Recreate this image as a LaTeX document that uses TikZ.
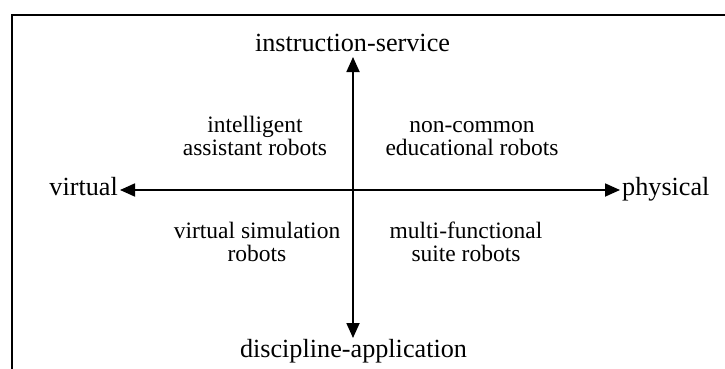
\documentclass[tikz,border=0pt]{standalone}
\usepackage{fontspec}
\setmainfont{Liberation Serif}
\usetikzlibrary{arrows.meta}
\begin{document}
\begin{tikzpicture}[x=1pt,y=-1pt,
  axis/.style={line width=1.8pt,-{Triangle[length=15pt,width=13pt]}},
  lbl/.style={font=\fontsize{26.2}{28}\selectfont,inner sep=0pt},
  quad/.style={font=\fontsize{23.5}{23}\selectfont,align=center,inner sep=0pt,anchor=base}]
  \useasboundingbox (0,0) rectangle (725,369);
  % frame: left and top edges
  \draw[line width=1.8pt] (12,369) -- (12,15) -- (725,15);
  % axis end labels
  \node[lbl,anchor=base] (top) at (352.5,52) {instruction-service};
  \node[lbl,anchor=base] (bottom) at (353.5,357) {discipline-application};
  \node[lbl,anchor=base east] (left) at (118,195) {virtual};
  \node[lbl,anchor=base west] (right) at (622,195) {physical};
  \coordinate (o) at (353,190);
  \coordinate (tt) at (353,57);
  \coordinate (bt) at (353,338);
  \coordinate (lt) at (120,190);
  \coordinate (rt) at (620,190);
  % axes
  \draw[axis] (o) -- (tt);
  \draw[axis] (o) -- (bt);
  \draw[axis] (o) -- (lt);
  \draw[axis] (o) -- (rt);
  % quadrant labels (anchored at the baseline of the second line)
  \node[quad] (q1) at (255,155) {intelligent\\assistant robots};
  \node[quad] (q2) at (472,155) {non-common\\educational robots};
  \node[quad] (q3) at (257,261) {virtual simulation\\robots};
  \node[quad] (q4) at (466,261) {multi-functional\\suite robots};
\end{tikzpicture}
\end{document}
